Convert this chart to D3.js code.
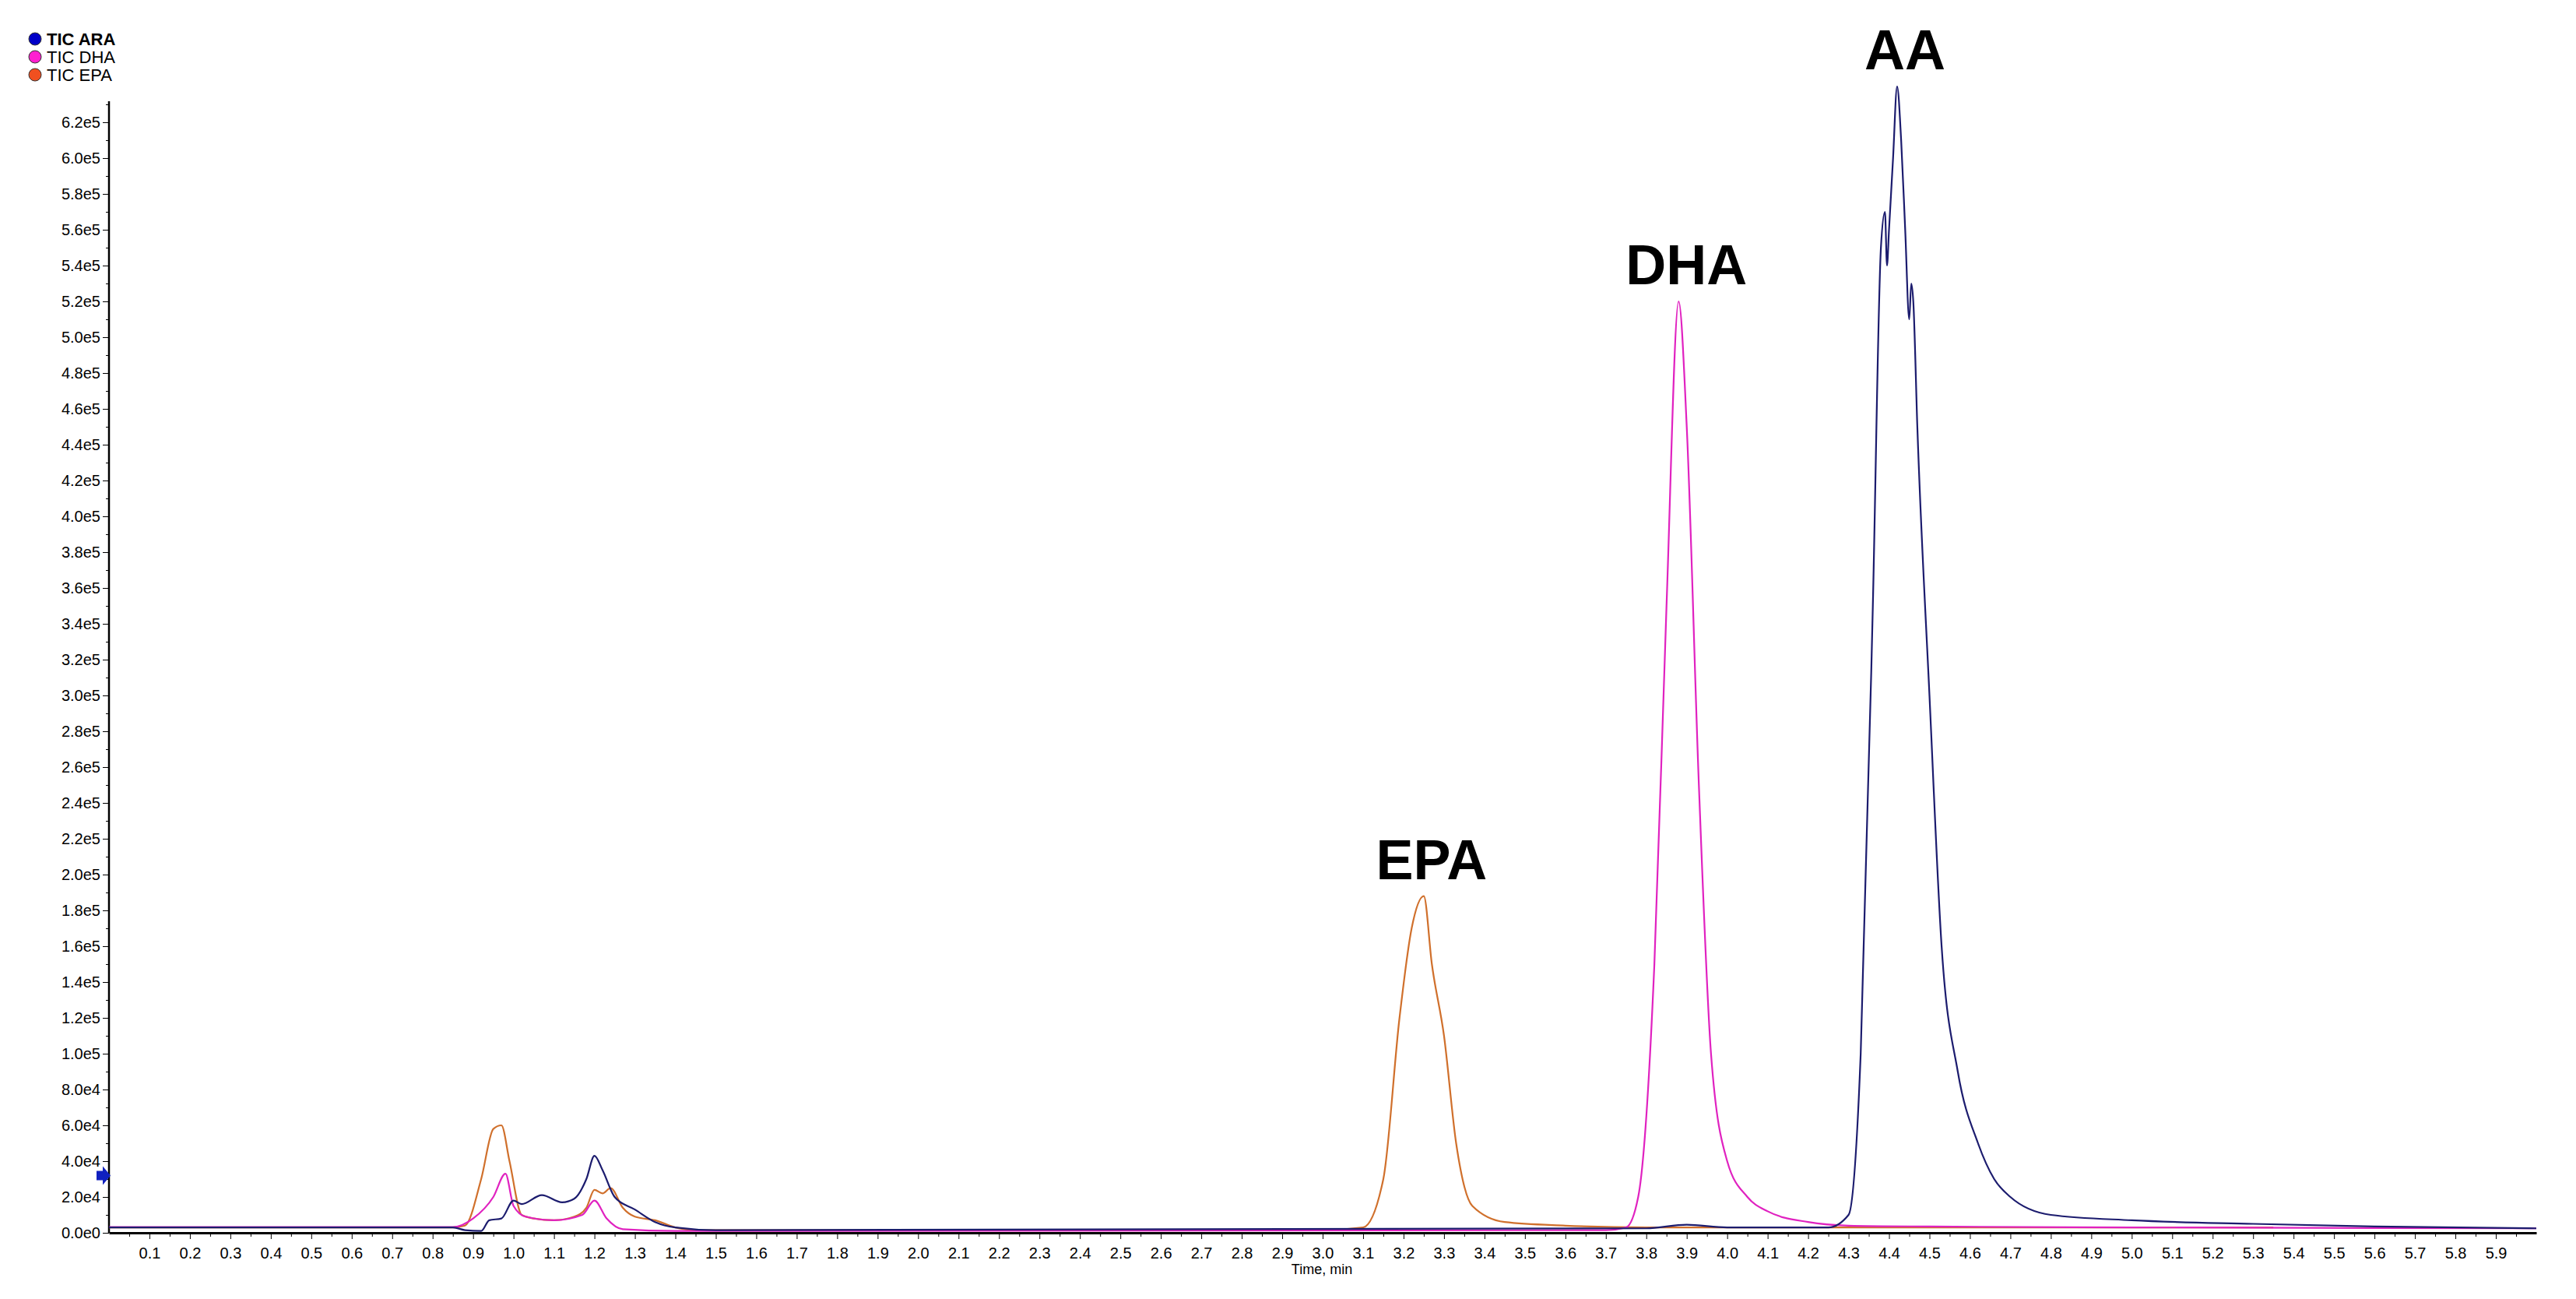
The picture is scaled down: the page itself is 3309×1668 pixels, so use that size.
<!DOCTYPE html>
<html><head><meta charset="utf-8">
<script src="https://cdn.jsdelivr.net/npm/d3@7"></script>
<style>body{margin:0;background:#fff}text{font-family:"Liberation Sans Narrow","Liberation Sans",Arial,sans-serif}</style>
</head><body><svg id="c" width="3309" height="1668"></svg>
<script>
const seriesNames = ["TIC  ARA","TIC  DHA","TIC  EPA"];
const seriesColors = ["#1c1c6e","#e022c0","#d0702c"];
const legendDot = ["#0000c8","#ff20d0","#f05020"];
const araPts = [[0,3000],[0.85,3000],[0.88,1500],[0.92,1000],[0.94,7000],[0.97,8000],[1.0,18000],[1.02,16000],[1.07,21000],[1.12,17000],[1.15,19000],[1.18,30000],[1.2,43000],[1.22,35000],[1.25,20000],[1.3,13000],[1.35,6000],[1.4,3000],[1.5,1500],[3.8,2500],[3.9,4500],[4.0,3000],[4.25,3000],[4.3,10000],[4.33,100000],[4.36,350000],[4.38,550000],[4.39,570000],[4.395,540000],[4.4,560000],[4.41,600000],[4.42,640000],[4.43,610000],[4.44,560000],[4.45,510000],[4.455,530000],[4.46,520000],[4.47,450000],[4.5,300000],[4.53,160000],[4.57,90000],[4.62,50000],[4.66,30000],[4.7,20000],[4.8,10000],[5.0,7000],[5.3,5000],[5.6,3500],[6.0,2500]];
const dhaPts = [[0,3200],[0.85,3200],[0.9,8000],[0.95,20000],[0.98,33000],[1.0,15000],[1.03,9000],[1.1,7000],[1.17,10000],[1.2,18000],[1.23,8000],[1.27,2000],[1.4,1000],[3.7,1500],[3.75,3000],[3.78,20000],[3.82,150000],[3.85,350000],[3.88,520000],[3.9,450000],[3.93,250000],[3.96,100000],[4.0,40000],[4.05,20000],[4.1,12000],[4.2,6000],[4.3,4000],[4.5,3500],[5.0,3000],[6.0,2500]];
const epaPts = [[0,3000],[0.85,3000],[0.88,4000],[0.92,30000],[0.95,58000],[0.97,60000],[0.99,40000],[1.02,10000],[1.05,8000],[1.1,7000],[1.15,9000],[1.18,14000],[1.2,24000],[1.22,22000],[1.24,25000],[1.27,14000],[1.3,9000],[1.35,7000],[1.4,3000],[1.45,1500],[3.0,1500],[3.1,3000],[3.15,30000],[3.19,120000],[3.22,170000],[3.25,188000],[3.27,150000],[3.3,110000],[3.33,50000],[3.37,15000],[3.45,6000],[3.6,4000],[3.8,3000],[5.35,3000]];
const seriesData = [araPts, dhaPts, epaPts];
const peakLabels = [["EPA",3.25,188000],["DHA",3.88,520000],["AA",4.42,640000]];
const xTicks = d3.range(1,60).map(i=>i/10);
const yTicks = d3.range(0,32).map(i=>i*20000);
const yLabel = v => v===0 ? "0.0e0" : (v<1e5 ? (v/1e4).toFixed(1)+"e4" : (v/1e5).toFixed(1)+"e5");

const svg = d3.select("#c");
const x = d3.scaleLinear().domain([0,6]).range([140,3258]);
const y = d3.scaleLinear().domain([0,620000]).range([1583,157]);

// axes
const xa = svg.append("g").attr("transform","translate(0,1583)").call(d3.axisBottom(x).tickValues(xTicks).tickFormat(d3.format(".1f")).tickSize(8).tickSizeOuter(0));
xa.select(".domain").attr("stroke-width",3);
xa.selectAll("text").attr("font-size",20).attr("dy","1.1em");
svg.append("g").attr("transform","translate(0,1583)").call(d3.axisBottom(x).tickValues(d3.range(0,60).map(i=>i/10+0.05)).tickFormat("").tickSize(5)).select(".domain").remove();
const ya = svg.append("g").attr("transform","translate(140,0)").call(d3.axisLeft(y).tickValues(yTicks).tickFormat(yLabel).tickSize(8));
ya.select(".domain").attr("d","M0,130V1583").attr("stroke-width",2.5);
ya.selectAll("text").attr("font-size",20);
svg.append("g").attr("transform","translate(140,0)").call(d3.axisLeft(y).tickValues(d3.range(0,32).map(i=>i*20000+10000)).tickFormat("").tickSize(4)).select(".domain").remove();
svg.append("text").attr("x",1698).attr("y",1636).attr("text-anchor","middle").attr("font-size",18).text("Time, min");

// lines
const line = d3.line().x(d=>x(d[0])).y(d=>y(d[1])).curve(d3.curveMonotoneX);
[2,1,0].forEach(i=>{
  svg.append("path").datum(seriesData[i]).attr("d",line).attr("fill","none").attr("stroke",seriesColors[i]).attr("stroke-width",2.2);
});

// peak labels
peakLabels.forEach(p=>{
  svg.append("text").attr("x",x(p[1])+10).attr("y",y(p[2])-22).attr("text-anchor","middle")
    .attr("font-size",72).attr("font-weight","bold").attr("font-family","Liberation Sans, Arial").text(p[0]);
});

// legend
seriesNames.forEach((n,i)=>{
  const yy = 50 + i*23;
  svg.append("circle").attr("cx",45).attr("cy",yy).attr("r",8).attr("fill",legendDot[i]).attr("stroke","#333").attr("stroke-width",1);
  svg.append("text").attr("x",60).attr("y",yy+8).attr("font-size",22).attr("font-weight",i===0?"bold":"normal").text(n);
});

// blue arrow marker on y axis
const ay = y(32000);
svg.append("path").attr("d",`M124,${ay-6}h8v-6l10,12l-10,12v-6h-8z`).attr("fill","#1020c0");
</script></body></html>
